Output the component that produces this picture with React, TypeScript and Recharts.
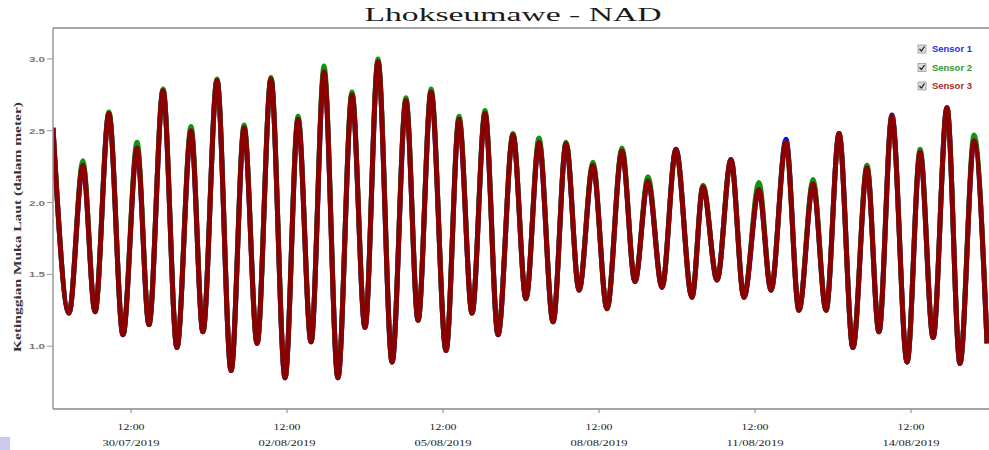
import React from 'react';
import { LineChart, Line, XAxis, YAxis, ReferenceLine, Legend } from 'recharts';

// hours since 29/07/2019 00:00 (turning points of the tide record)
const hours = [0, 7.4, 13.8, 19.4, 25.8, 32.3, 38.8, 44.3, 50.8, 57.2, 63.7, 69.2, 75.7, 82.2, 88.2, 94.2, 100.6, 107.1, 113.1, 119.1, 125.1, 131.5, 138.0, 144.0, 150.0, 156.5, 162.9, 168.5, 174.5, 181.4, 187.4, 193.4, 199.4, 205.4, 212.3, 218.3, 224.3, 230.8, 236.8, 242.8, 249.2, 255.7, 262.6, 268.6, 274.6, 281.1, 287.5, 294.9, 300.0, 306.5, 312.9, 318.9, 325.8, 331.4, 338.3, 344.3, 350.8, 356.8, 362.8, 369.2, 375.7, 381.2, 387.2, 394.2, 400.2, 406.2, 412.6, 418.6, 425.1, 431.1];

const sensor1 = [2.52, 1.23, 2.26, 1.24, 2.62, 1.08, 2.38, 1.15, 2.78, 0.99, 2.50, 1.10, 2.85, 0.83, 2.52, 1.02, 2.86, 0.78, 2.58, 1.03, 2.91, 0.78, 2.75, 1.13, 2.98, 0.89, 2.71, 1.18, 2.77, 0.97, 2.58, 1.23, 2.62, 1.08, 2.47, 1.33, 2.42, 1.17, 2.41, 1.39, 2.26, 1.26, 2.36, 1.45, 2.15, 1.41, 2.37, 1.34, 2.11, 1.46, 2.30, 1.34, 2.09, 1.39, 2.44, 1.25, 2.13, 1.25, 2.48, 0.99, 2.24, 1.10, 2.61, 0.89, 2.35, 1.06, 2.66, 0.88, 2.43, 1.02];

const sensor2 = [2.52, 1.23, 2.29, 1.24, 2.63, 1.08, 2.42, 1.15, 2.79, 0.99, 2.53, 1.10, 2.86, 0.83, 2.54, 1.02, 2.87, 0.78, 2.60, 1.03, 2.95, 0.78, 2.77, 1.13, 3.00, 0.89, 2.73, 1.18, 2.79, 0.97, 2.60, 1.23, 2.64, 1.08, 2.48, 1.33, 2.45, 1.17, 2.42, 1.39, 2.28, 1.26, 2.38, 1.45, 2.18, 1.41, 2.37, 1.34, 2.12, 1.46, 2.30, 1.34, 2.14, 1.39, 2.42, 1.25, 2.16, 1.25, 2.48, 0.99, 2.26, 1.10, 2.60, 0.89, 2.37, 1.06, 2.66, 0.88, 2.47, 1.02];

const sensor3 = [2.52, 1.23, 2.26, 1.24, 2.62, 1.08, 2.38, 1.15, 2.78, 0.99, 2.50, 1.10, 2.85, 0.83, 2.52, 1.02, 2.86, 0.78, 2.58, 1.03, 2.91, 0.78, 2.75, 1.13, 2.98, 0.89, 2.71, 1.18, 2.77, 0.97, 2.58, 1.23, 2.62, 1.08, 2.47, 1.33, 2.42, 1.17, 2.41, 1.39, 2.26, 1.26, 2.36, 1.45, 2.15, 1.41, 2.37, 1.34, 2.11, 1.46, 2.30, 1.34, 2.09, 1.39, 2.42, 1.25, 2.13, 1.25, 2.48, 0.99, 2.24, 1.10, 2.60, 0.89, 2.35, 1.06, 2.66, 0.88, 2.43, 1.02];

const xTicks = [36, 108, 180, 252, 324, 396];
const timeLabels = ['12:00', '12:00', '12:00', '12:00', '12:00', '12:00'];
const dateLabels = ['30/07/2019', '02/08/2019', '05/08/2019', '08/08/2019', '11/08/2019', '14/08/2019'];
const yTicks = [1.0, 1.5, 2.0, 2.5, 3.0];
const seriesNames = ['Sensor 1', 'Sensor 2', 'Sensor 3'];
const seriesColors = ['#0000ff', '#129412', '#8b0000'];
const legendColors = ['#2a2aee', '#2b9a2b', '#a52a2a'];

const TITLE = 'Lhokseumawe - NAD';
const Y_LABEL = 'Ketinggian Muka Laut (dalam meter)';

const data = hours.map((t, i) => ({ t, s1: sensor1[i], s2: sensor2[i], s3: sensor3[i] }));

const XTick = (props: any) => {
  const { x, y, payload } = props;
  const i = xTicks.indexOf(payload.value);
  return (
    <g transform={`translate(${x},${y})`}>
      <text x={0} y={15} textAnchor="middle" fontFamily="Liberation Serif" fontSize={9} fill="#222" textLength={27} lengthAdjust="spacingAndGlyphs">{timeLabels[i]}</text>
      <text x={0} y={31} textAnchor="middle" fontFamily="Liberation Serif" fontSize={9} fill="#222" textLength={57} lengthAdjust="spacingAndGlyphs">{dateLabels[i]}</text>
    </g>
  );
};

const YTick = (props: any) => {
  const { x, y, payload } = props;
  return (
    <text x={x} y={y + 3} textAnchor="end" fontFamily="Liberation Sans" fontWeight="bold" fontSize={8} fill="#777" textLength={16} lengthAdjust="spacingAndGlyphs">
      {Number(payload.value).toFixed(1)}
    </text>
  );
};

const LegendContent = (props: any) => {
  const payload = props.payload || [];
  return (
    <svg width={75} height={60} style={{ display: 'block' }}>
      {payload.map((p: any, i: number) => {
        const idx = seriesNames.indexOf(p.value);
        const cy = 9 + i * 18.5;
        return (
          <g key={i}>
            <rect x={4} y={cy - 4} width={8} height={8} fill="#dcdcdc" stroke="#999" strokeWidth={0.8} />
            <path d={`M5.5 ${cy} L7.5 ${cy + 2} L10.5 ${cy - 2.5}`} fill="none" stroke="#222" strokeWidth={1.3} />
            <text x={18} y={cy + 3} fontFamily="Liberation Sans" fontWeight="bold" fontSize={9} fill={legendColors[idx >= 0 ? idx : i]} textLength={40} lengthAdjust="spacingAndGlyphs">
              {p.value}
            </text>
          </g>
        );
      })}
    </svg>
  );
};

export default function App() {
  return (
    <div style={{ position: 'absolute', left: 0, top: 0, width: 989, height: 450, background: '#fff' }}>
      <LineChart width={989} height={450} data={data} margin={{ top: 28, right: 0, bottom: 0, left: 0 }}>
        <XAxis
          dataKey="t"
          type="number"
          domain={[0, 432]}
          ticks={xTicks}
          allowDataOverflow
          height={41}
          tick={<XTick />}
          tickSize={4}
          tickLine={{ stroke: '#888' }}
          axisLine={{ stroke: '#888', strokeWidth: 1.5 }}
          interval={0}
        />
        <YAxis
          type="number"
          domain={[0.5625, 3.215]}
          ticks={yTicks}
          allowDataOverflow
          width={53}
          tick={<YTick />}
          tickSize={6}
          tickLine={{ stroke: '#999' }}
          axisLine={{ stroke: '#999', strokeWidth: 1.5 }}
          interval={0}
        />
        <ReferenceLine y={3.215} stroke="#888" strokeWidth={1.5} />
        <Legend
          layout="horizontal"
          verticalAlign="middle"
          align="center"
          content={<LegendContent />}
          wrapperStyle={{ position: 'absolute', left: 914, top: 40, width: 75, height: 60 }}
        />
        <Line type="monotone" dataKey="s1" name={seriesNames[0]} stroke={seriesColors[0]} strokeWidth={5} dot={false} isAnimationActive={false} />
        <Line type="monotone" dataKey="s2" name={seriesNames[1]} stroke={seriesColors[1]} strokeWidth={5} dot={false} isAnimationActive={false} />
        <Line type="monotone" dataKey="s3" name={seriesNames[2]} stroke={seriesColors[2]} strokeWidth={5} dot={false} isAnimationActive={false} />
      </LineChart>
      <svg width={989} height={450} style={{ position: 'absolute', left: 0, top: 0, pointerEvents: 'none' }}>
        <text x={513} y={21} textAnchor="middle" fontFamily="Liberation Serif" fontSize={19} fill="#1a1a1a" textLength={297} lengthAdjust="spacingAndGlyphs">{TITLE}</text>
        <text transform="translate(21,227) rotate(-90)" x={0} y={0} textAnchor="middle" fontFamily="Liberation Serif" fontWeight="bold" fontSize={11} fill="#333" textLength={250} lengthAdjust="spacingAndGlyphs">{Y_LABEL}</text>
      </svg>
      <div style={{ position: 'absolute', left: 0, top: 437, width: 10, height: 13, background: '#cacaf0' }} />
    </div>
  );
}
